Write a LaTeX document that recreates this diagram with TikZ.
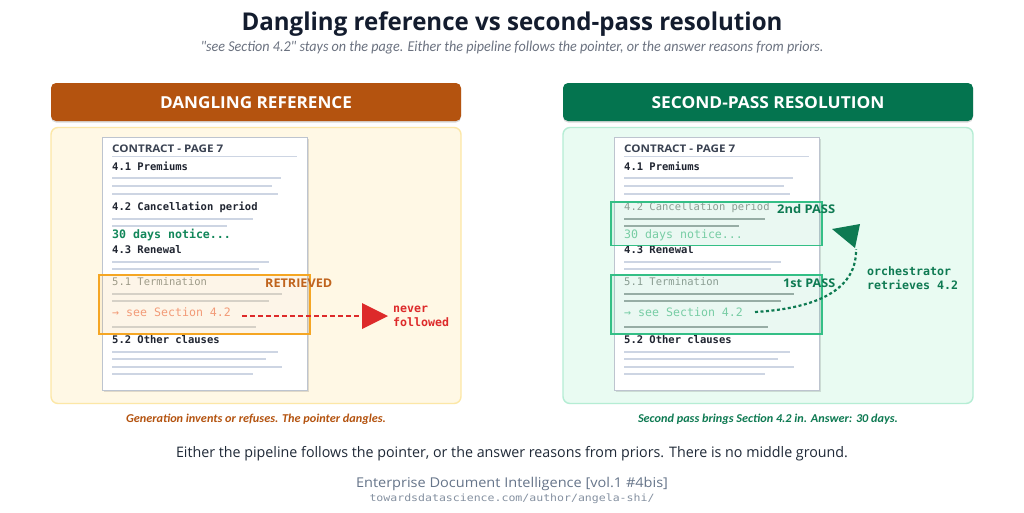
\documentclass[tikz,border=0pt]{standalone}
\usepackage{fontspec}
\usepackage{graphicx}
\usetikzlibrary{shadows,calc}
\setmainfont{Open Sans}
\newfontfamily\carl{Carlito}
\newfontfamily\monof{DejaVu Sans Mono}
\newsavebox\fitbox
\newdimen\fitdim
\newcommand\FitW[2]{\sbox\fitbox{#2}\fitdim=\wd\fitbox\pgfmathsetmacro\fitsc{#1/\the\fitdim}\scalebox{\fitsc}[1]{\usebox\fitbox}}
\newcommand\fsz[1]{\fontsize{#1pt}{#1pt}\selectfont}

\definecolor{titleink}{HTML}{131C2E}
\definecolor{subink}{HTML}{6B7280}
\definecolor{docink}{HTML}{1F2430}
\definecolor{headink}{HTML}{3A4252}
\definecolor{lineclr}{HTML}{CDD5E3}
\definecolor{orhead}{HTML}{B4530F}
\definecolor{grhead}{HTML}{04744F}
\definecolor{orpanel}{HTML}{FFF8E5}
\definecolor{orborder}{HTML}{FCE7A6}
\definecolor{grpanel}{HTML}{E9FBF2}
\definecolor{grborder}{HTML}{B5EDD4}
\definecolor{notice}{HTML}{12875A}
\definecolor{salmon}{HTML}{F29A82}
\definecolor{fadegray}{HTML}{949A94}
\definecolor{retr}{HTML}{F5A623}
\definecolor{retrtxt}{HTML}{C0641E}
\definecolor{redc}{HTML}{DD2A2A}
\definecolor{passbox}{HTML}{34BF86}
\definecolor{passtxt}{HTML}{0E7A52}
\definecolor{lightgreen}{HTML}{80CFA8}
\definecolor{darkline}{HTML}{A3ACA9}
\definecolor{footink}{HTML}{66758A}
\definecolor{bottomink}{HTML}{1F2937}

\tikzset{
  txt/.style={inner sep=0pt, anchor=base west},
  ctxt/.style={inner sep=0pt, anchor=base},
  mono/.style={txt, font=\monof\bfseries\fsz{10.5}, text=docink},
  bigmono/.style={txt, font=\monof\bfseries\fsz{11.6}},
  docline/.style={draw=lineclr, line width=1.6pt},
  docpage/.style={draw=lineclr!80!gray, line width=0.6pt, fill=white,
    minimum width=205pt, minimum height=253pt, inner sep=0pt,
    drop shadow={shadow xshift=1.5pt, shadow yshift=-1.5pt, opacity=0.12, fill=black}},
  hdrbox/.style={rounded corners=5pt, minimum width=410pt, minimum height=38pt, inner sep=0pt,
    drop shadow={shadow xshift=0pt, shadow yshift=-1.5pt, opacity=0.15, fill=black}},
  hdrtxt/.style={ctxt, text=white, font=\bfseries\fsz{16.5}},
  panel/.style={rounded corners=7pt, line width=1.4pt, minimum width=410pt, minimum height=276pt, inner sep=0pt},
  tagtxt/.style={txt, font=\bfseries\fsz{12}},
  caption/.style={ctxt, font=\carl\bfseries\itshape\fsz{12}},
}

\newcommand\DocPage[1]{%
  \node[docpage] (#1doc) at (204.5,263.5) {};
  \node[txt, text=headink, font=\bfseries\fsz{10.5}] (#1head) at (112,152) {\FitW{111}{CONTRACT - PAGE 7}};
  \draw[docline] (112,156.5) -- (297,156.5);
  \node[mono] (#1s41) at (112,170) {4.1 Premiums};
  \draw[docline] (112,178) -- (281,178) (112,186) -- (272,186) (112,194) -- (278,194);
  \node[sfourtwo] (#1s42) at (112,210) {4.2 Cancellation period};
  \draw[dlfourtwo] (112,219) -- (253,219) (112,226) -- (227,226);
  \node[sthirty] (#1s30) at (112,238) {30 days notice...};
  \node[mono] (#1s43) at (112,253) {4.3 Renewal};
  \draw[docline] (112,262) -- (269,262) (112,269) -- (259,269);
  \node[sfiveone] (#1s51) at (112,285) {5.1 Termination};
  \draw[dlfiveone] (112,294) -- (282,294) (112,301) -- (269,301);
  \node[ssee] (#1see) at (112,316) {→ see Section 4.2};
  \draw[dlfiveone] (112,327) -- (256,327);
  \node[mono] (#1s52) at (112,343) {5.2 Other clauses};
  \draw[docline] (112,352) -- (278,352) (112,359) -- (266,359) (112,367) -- (282,367) (112,374) -- (253,374);
}

\begin{document}
\begin{tikzpicture}[x=1pt,y=-1pt]
\useasboundingbox (0,0) rectangle (1024,512);
\fill[white] (0,0) rectangle (1024,512);

% title
\node[ctxt, text=titleink, font=\bfseries\fsz{24.5}] (title) at (512,30) {\FitW{541}{Dangling reference vs second-pass resolution}};
\node[ctxt, text=subink, font=\carl\itshape\fsz{15}] (subtitle) at (512,51) {\FitW{623}{"see Section 4.2" stays on the page. Either the pipeline follows the pointer, or the answer reasons from priors.}};

% ===== left =====
\node[hdrbox, fill=orhead] (lhdr) at (256,102) {};
\node[hdrtxt] (lhdrtxt) at (256,108.5) {\FitW{192}{DANGLING REFERENCE}};
\node[panel, fill=orpanel, draw=orborder] (lpanel) at (256,265.5) {};

\begin{scope}[
  sfourtwo/.style={mono},
  dlfourtwo/.style={docline},
  sthirty/.style={bigmono, text=notice},
  sfiveone/.style={txt, font=\monof\fsz{10.5}, text=fadegray},
  ssee/.style={txt, font=\monof\fsz{11.6}, text=salmon},
  dlfiveone/.style={draw=lineclr!70!orpanel!90!gray, line width=1.6pt}]
  \DocPage{L}
\end{scope}

\node[draw=retr, line width=1.6pt, fill=retr, fill opacity=0.10, minimum width=211pt, minimum height=59pt, inner sep=0pt] (retrbox) at (204.5,304.5) {};
\node[tagtxt, text=retrtxt] (retrtxt) at (265,287) {\FitW{67}{RETRIEVED}};

\coordinate (dashStart) at (242,316);
\coordinate (neverTip) at (362,316);
\draw[redc, line width=2.2pt, dash pattern=on 5pt off 3pt] (dashStart) -- (neverTip);
\fill[redc] (362,303) -- (388,316) -- (362,329) -- cycle;
\node[bigmono, text=redc] (never) at (393,312) {never};
\node[bigmono, text=redc] (followed) at (393,326) {followed};

\node[caption, text=orhead] (lcap) at (256,422) {\FitW{260}{Generation invents or refuses. The pointer dangles.}};

% ===== right =====
\node[hdrbox, fill=grhead] (rhdr) at (768,102) {};
\node[hdrtxt] (rhdrtxt) at (768,108.5) {\FitW{233}{SECOND-PASS RESOLUTION}};
\node[panel, fill=grpanel, draw=grborder] (rpanel) at (768,265.5) {};

\begin{scope}[xshift=512pt,
  sfourtwo/.style={txt, font=\monof\fsz{10.5}, text=fadegray},
  dlfourtwo/.style={draw=darkline, line width=1.6pt},
  sthirty/.style={txt, font=\monof\fsz{11.6}, text=lightgreen},
  sfiveone/.style={txt, font=\monof\fsz{10.5}, text=fadegray},
  ssee/.style={txt, font=\monof\fsz{11.6}, text=lightgreen},
  dlfiveone/.style={draw=darkline, line width=1.6pt}]
  \DocPage{R}
\end{scope}

\node[draw=passbox, line width=1.6pt, fill=passbox, fill opacity=0.10, minimum width=211pt, minimum height=43.5pt, inner sep=0pt] (pass2box) at (716.5,223.8) {};
\node[draw=passbox, line width=1.6pt, fill=passbox, fill opacity=0.10, minimum width=211pt, minimum height=59pt, inner sep=0pt] (pass1box) at (716.5,304.5) {};
\node[tagtxt, text=passtxt] (pass2txt) at (777,213.5) {\FitW{58}{2nd PASS}};
\node[tagtxt, text=passtxt] (pass1txt) at (783,287) {\FitW{52}{1st PASS}};

\coordinate (curveStart) at (755,312);
\coordinate (curveEnd) at (856,249);
\draw[passtxt, line width=2.2pt, dash pattern=on 3pt off 2.5pt] (curveStart) .. controls (822,308) and (857,287) .. (curveEnd);
\fill[passtxt] (832,229) -- (860,224) -- (855,248) -- cycle;
\node[bigmono, text=passtxt] (orch1) at (867,275) {orchestrator};
\node[bigmono, text=passtxt] (orch2) at (867,289) {retrieves 4.2};

\node[caption, text=passtxt] (rcap) at (768,422) {\FitW{260}{Second pass brings Section 4.2 in. Answer: 30 days.}};

% ===== bottom =====
\node[ctxt, text=bottomink, font=\fsz{14.5}] (bottom) at (512,457) {\FitW{672}{Either the pipeline follows the pointer, or the answer reasons from priors. There is no middle ground.}};
\node[ctxt, text=footink, font=\fsz{13.5}] (footer) at (512,487) {\FitW{312}{Enterprise Document Intelligence [vol.1 \#4bis]}};
\node[ctxt, text=footink!80!white, font=\monof\fsz{10}] (url) at (512,501) {\FitW{285}{towardsdatascience.com/author/angela-shi/}};
\end{tikzpicture}
\end{document}
